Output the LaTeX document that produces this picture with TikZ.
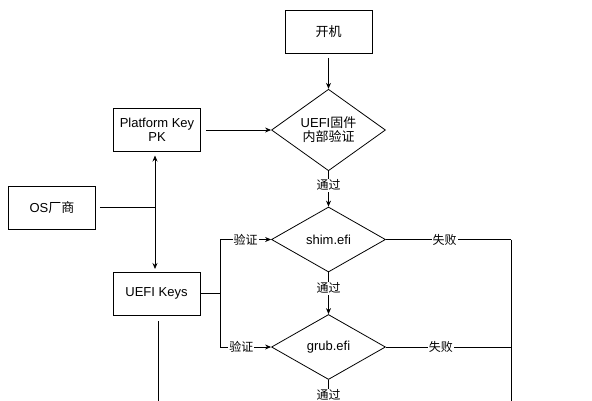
\documentclass[tikz,border=0pt]{standalone}
\usepackage{fontspec}
\setmainfont{Liberation Sans}
\newfontfamily\cjk{Noto Sans CJK SC}
\usetikzlibrary{shapes.geometric,arrows.meta}
\begin{document}
\begin{tikzpicture}[x=1pt,y=-1pt,
  box/.style={draw, line width=0.8pt, minimum width=87pt, minimum height=43pt, inner sep=1pt, align=center, font=\fontsize{13}{15}\selectfont},
  dia/.style={draw, diamond, line width=0.8pt, minimum width=114pt, minimum height=65pt, inner sep=0pt, align=center, font=\fontsize{13}{15}\selectfont},
  lab/.style={fill=white, inner sep=1pt, font=\fontsize{12}{14}\selectfont\cjk},
  ln/.style={line width=0.8pt},
  arr/.style={line width=0.8pt, -{Stealth[length=6pt,width=5pt]}},
  darr/.style={line width=0.8pt, {Stealth[length=6pt,width=5pt]}-{Stealth[length=6pt,width=5pt]}}
]
\useasboundingbox (0,0) rectangle (592,400);
\clip (0,0) rectangle (592,400);
\node[box] (on) at (328.5,32) {\cjk 开机};
\node[dia] (uefi) at (328.5,130) {UEFI{\cjk 固件}\\[-1pt]{\cjk 内部验证}};
\node[dia] (shim) at (328.5,239.5) {shim.efi};
\node[dia] (grub) at (328.5,347) {grub.efi};
\node[box] (pk) at (157,130) {Platform Key\\[-1pt]PK};
\node[box] (os) at (52,207.5) {OS{\cjk 厂商}};
\node[box] (keys) at (156.5,293.5) {UEFI Keys};
\coordinate (osj) at (155,207.5);
\coordinate (kj) at (220,293.5);
\coordinate (ks) at (220,239.5);
\coordinate (kg) at (220,347);
\coordinate (rs) at (511,239.5);
\coordinate (rg) at (511,347);
\coordinate (rb) at (511,410);
\coordinate (kb) at (158,410);
\coordinate (gb) at (328.5,410);

\draw[arr] (on.south) ++(0,4) -- (uefi.north);
\draw[arr] (uefi.south) -- (shim.north) node[lab, pos=0.4] {通过};
\draw[arr] (shim.south) -- (grub.north) node[lab, pos=0.38] {通过};
\draw[ln] (grub.south) -- (gb) node[lab, pos=0.5] {通过};
\draw[arr] ([xshift=5pt]pk.east) -- (uefi.west);
\draw[ln] ([xshift=4pt]os.east) -- (osj);
\draw[darr] (155,155.5) -- (155,269);
\draw[ln] (keys.east) -- (kj);
\draw[ln] (ks) -- (kg);
\draw[arr] (ks) -- (shim.west) node[lab, pos=0.5] {验证};
\draw[arr] (kg) -- (grub.west) node[lab, pos=0.42] {验证};
\draw[ln] (shim.east) -- (rs) node[lab, pos=0.47] {失败};
\draw[ln] (grub.east) -- (rg) node[lab, pos=0.44] {失败};
\draw[ln] (rs) -- (rb);
\draw[ln] (158,321) -- (kb);
\end{tikzpicture}
\end{document}
